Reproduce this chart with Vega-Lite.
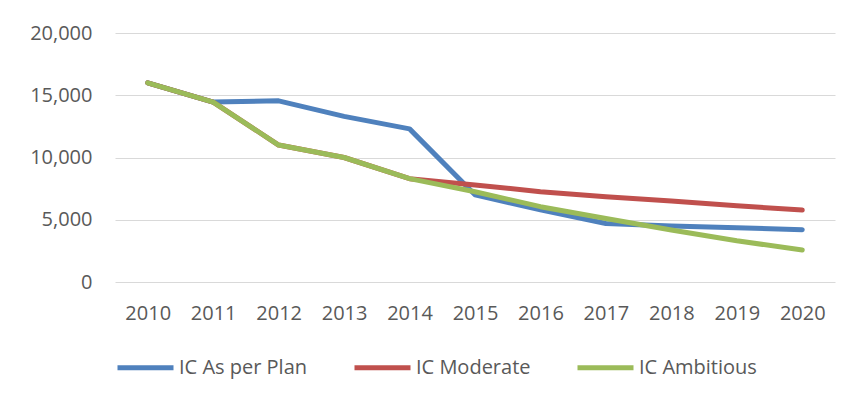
{
  "$schema": "https://vega.github.io/schema/vega-lite/v6.json",
  "autosize": "none",
  "width": 720,
  "height": 249,
  "padding": {"left": 115, "top": 33, "right": 17, "bottom": 118},
  "background": "white",
  "config": {
    "font": "Open Sans",
    "view": {"stroke": null},
    "axis": {"labelFont": "Open Sans", "labelFontSize": 20, "labelColor": "#595959"},
    "legend": {"labelFont": "Open Sans", "labelFontSize": 20, "labelColor": "#595959"}
  },
  "data": {
    "values": [
      {"year": "2010", "series": "IC As per Plan", "value": 16000},
      {"year": "2011", "series": "IC As per Plan", "value": 14450},
      {"year": "2012", "series": "IC As per Plan", "value": 14550},
      {"year": "2013", "series": "IC As per Plan", "value": 13300},
      {"year": "2014", "series": "IC As per Plan", "value": 12300},
      {"year": "2015", "series": "IC As per Plan", "value": 7000},
      {"year": "2016", "series": "IC As per Plan", "value": 5800},
      {"year": "2017", "series": "IC As per Plan", "value": 4700},
      {"year": "2018", "series": "IC As per Plan", "value": 4500},
      {"year": "2019", "series": "IC As per Plan", "value": 4350},
      {"year": "2020", "series": "IC As per Plan", "value": 4200},
      {"year": "2010", "series": "IC Moderate", "value": 16000},
      {"year": "2011", "series": "IC Moderate", "value": 14450},
      {"year": "2012", "series": "IC Moderate", "value": 11000},
      {"year": "2013", "series": "IC Moderate", "value": 10000},
      {"year": "2014", "series": "IC Moderate", "value": 8300},
      {"year": "2015", "series": "IC Moderate", "value": 7800},
      {"year": "2016", "series": "IC Moderate", "value": 7250},
      {"year": "2017", "series": "IC Moderate", "value": 6850},
      {"year": "2018", "series": "IC Moderate", "value": 6500},
      {"year": "2019", "series": "IC Moderate", "value": 6120},
      {"year": "2020", "series": "IC Moderate", "value": 5780},
      {"year": "2010", "series": "IC Ambitious", "value": 16000},
      {"year": "2011", "series": "IC Ambitious", "value": 14450},
      {"year": "2012", "series": "IC Ambitious", "value": 11000},
      {"year": "2013", "series": "IC Ambitious", "value": 10000},
      {"year": "2014", "series": "IC Ambitious", "value": 8300},
      {"year": "2015", "series": "IC Ambitious", "value": 7250},
      {"year": "2016", "series": "IC Ambitious", "value": 6050},
      {"year": "2017", "series": "IC Ambitious", "value": 5100},
      {"year": "2018", "series": "IC Ambitious", "value": 4170},
      {"year": "2019", "series": "IC Ambitious", "value": 3310},
      {"year": "2020", "series": "IC Ambitious", "value": 2570}
    ]
  },
  "encoding": {
    "x": {
      "field": "year", "type": "ordinal", "title": null,
      "scale": {"type": "point", "padding": 0.5},
      "axis": {"labelAngle": 0, "ticks": false, "domain": false, "grid": false, "labelPadding": 21}
    },
    "y": {
      "field": "value", "type": "quantitative", "title": null,
      "scale": {"domain": [0, 20000], "nice": false},
      "axis": {"values": [0, 5000, 10000, 15000, 20000], "format": ",.0f", "ticks": false, "domain": false, "gridColor": "#d9d9d9", "gridWidth": 1, "labelPadding": 23}
    },
    "color": {
      "field": "series", "type": "nominal", "title": null,
      "scale": {"domain": ["IC As per Plan", "IC Moderate", "IC Ambitious"], "range": ["#4F81BD", "#C0504D", "#9BBB59"]},
      "legend": {"orient": "bottom", "direction": "horizontal", "symbolType": "stroke", "symbolSize": 3136, "symbolStrokeWidth": 5, "columnPadding": 36, "labelOffset": 3, "offset": 14}
    }
  },
  "layer": [
    {"transform": [{"filter": "datum.series === 'IC As per Plan'"}], "mark": {"type": "line", "strokeWidth": 5, "strokeCap": "round", "strokeJoin": "round"}},
    {"transform": [{"filter": "datum.series === 'IC Moderate'"}], "mark": {"type": "line", "strokeWidth": 5, "strokeCap": "round", "strokeJoin": "round"}},
    {"transform": [{"filter": "datum.series === 'IC Ambitious'"}], "mark": {"type": "line", "strokeWidth": 5, "strokeCap": "round", "strokeJoin": "round"}}
  ]
}
